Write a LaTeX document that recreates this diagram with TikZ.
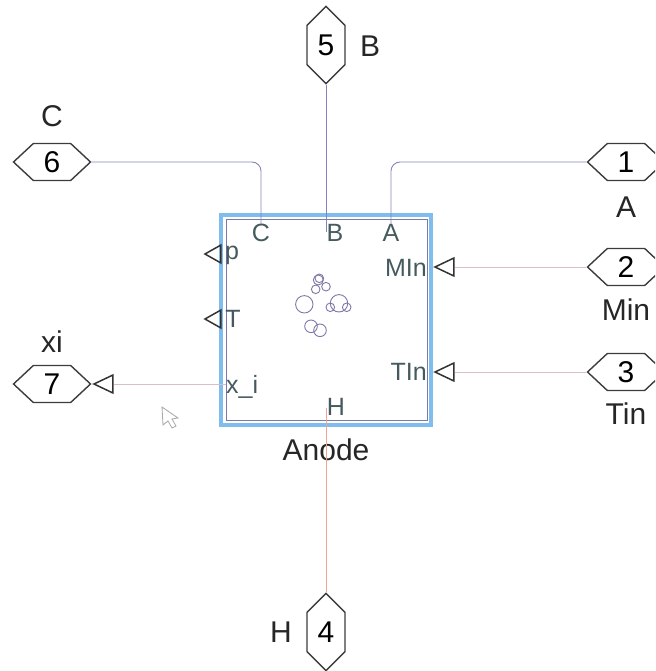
\documentclass[tikz,border=0pt]{standalone}
\usepackage{fontspec}
\setmainfont{Liberation Sans}
\usetikzlibrary{shapes.symbols,shapes.geometric}
\definecolor{blockblue}{HTML}{7FBDEE}
\definecolor{blockline}{HTML}{7C78A8}
\definecolor{wireblue}{HTML}{8484BC}
\definecolor{wirepink}{HTML}{D8BEC6}
\definecolor{wirered}{HTML}{F0A494}
\definecolor{porttext}{HTML}{465A5E}
\definecolor{edgegrey}{HTML}{3C3C3C}
\begin{document}
\begin{tikzpicture}[x=1pt,y=-1pt,
	sigh/.style={draw=edgegrey,line width=1.4pt,signal,signal to=west and east,signal pointer angle=86,minimum width=77pt,minimum height=37pt,inner sep=0pt,font=\fontsize{30}{33}\selectfont},
	sigv/.style={draw=edgegrey,line width=1.4pt,signal,signal to=north and south,signal pointer angle=90,minimum width=38pt,minimum height=56pt,inner sep=0pt,font=\fontsize{30}{33}\selectfont},
	lbl/.style={inner sep=0pt,font=\fontsize{30}{33}\selectfont,text=black!85},
	portlbl/.style={inner sep=0pt,font=\fontsize{25}{28}\selectfont,text=porttext},
	porttri/.style={draw=black!80,line width=1.5pt,isosceles triangle,isosceles triangle stretches,minimum width=18pt,minimum height=19pt,inner sep=0pt,anchor=apex,shape border rotate=180},
	wire/.style={line width=.9pt},
	blob/.style={blockline,line width=.9pt}]

	\clip (0,0) rectangle (655,671);
%	\draw[step=100pt,gray,very thin] (0,0) grid (655,671);

	\draw[blockblue,line width=4pt] (221,215) rectangle (431,425);
	\draw[blockline,line width=1pt] (226,219) rectangle (427,420);
	\node[lbl] (anode) at (326,450) {Anode};

	\node[sigh] (sigA) at (626,162) {1};
	\node[sigh] (sigMin) at (626,267) {2};
	\node[sigh] (sigTin) at (626,372) {3};
	\node[sigv] (sigH) at (326,632) {4};
	\node[sigv] (sigB) at (326,45) {5};
	\node[sigh] (sigC) at (52,162) {6};
	\node[sigh] (sigXi) at (52,384) {7};

	\node[lbl] (lblA) at (626,207) {A};
	\node[lbl] (lblMin) at (626,310) {Min};
	\node[lbl] (lblTin) at (626,414) {Tin};
	\node[lbl] (lblH) at (281,632) {H};
	\node[lbl] (lblB) at (370,46) {B};
	\node[lbl] (lblC) at (52,116) {C};
	\node[lbl] (lblXi) at (52,342) {xi};

	\node[portlbl] (portC) at (261,233) {C};
	\node[portlbl] (portB) at (335,233) {B};
	\node[portlbl] (portA) at (391,233) {A};
	\node[portlbl] (portP) at (232,255) {p};
	\node[portlbl] (portT) at (233,319) {T};
	\node[portlbl,anchor=east] (portMIn) at (427,268) {MIn};
	\node[portlbl,anchor=east] (portTIn) at (427,372) {TIn};
	\node[portlbl,anchor=west] (portXi) at (226,387) {x\_i};
	\node[portlbl] (portH) at (336,407) {H};

	\node[porttri,minimum height=16pt] (triP) at (203,254) {};
	\node[porttri,minimum height=16pt] (triT) at (203,319) {};
	\node[porttri] (triMIn) at (433,267) {};
	\node[porttri] (triTIn) at (433,372) {};
	\node[porttri] (triXi) at (92,384) {};

	\coordinate (endB) at (326,232);
	\coordinate (endH) at (326,408);
	\coordinate (endXi) at (226,384);

	\draw[wire,wireblue,rounded corners=9pt] (sigC.east) -| (portC.north);
	\draw[wire,wireblue,rounded corners=9pt] (sigA.west) -| (portA.north);
	\draw[wire,wireblue] (sigB.south) -- (endB);
	\draw[wire,wirered] (sigH.north) -- (endH);
	\draw[wire,wirepink] (triMIn.east) -- (sigMin.west);
	\draw[wire,wirepink] (triTIn.east) -- (sigTin.west);
	\draw[wire,wirepink] (triXi.east) -- (endXi);

	\foreach \cx/\cy/\cr in {304.3/304.3/8.7,339/303.3/8.7,330.3/307.3/4.3,346.7/307.3/4.3,311/326.3/6.3,320/330.3/6.3,319.3/278.3/4.3,318.3/280/5,315.7/289.3/4.3,326/286.7/4.3}
		\draw[blob] (\cx,\cy) circle (\cr pt);

	% mouse pointer
	\draw[gray!70,line width=.8pt,fill=white] (162,407) -- (163,425) -- (168,421) -- (172,428) -- (176,426) -- (172,419) -- (178,418) -- cycle;

\end{tikzpicture}
\end{document}
